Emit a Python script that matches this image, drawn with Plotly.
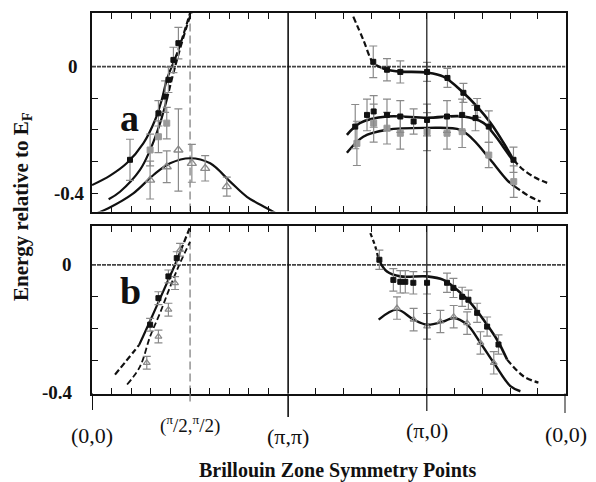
import plotly.graph_objects as go

# ---------------- data (x in units of pi along the cut, E in eV) ----------------
X_G, X_N, X_M, X_X, X_G2 = 0.0, 0.7071, 1.4142, 2.4142, 3.4142
sym_labels = ["(0,0)", "(<sup>π</sup>/2,<sup>π</sup>/2)", "(π,π)", "(π,0)", "(0,0)"]
sym_pos = [X_G, X_N, X_M, X_X, X_G2]

# panel a - nodal curves
a_A_solid_x = [0.0, 0.130, 0.250, 0.370, 0.455, 0.503, 0.539, 0.575]
a_A_solid_e = [-0.375, -0.345, -0.306, -0.243, -0.169, -0.105, -0.042, 0.0]
a_A_dash_x = [0.575, 0.623, 0.707]
a_A_dash_e = [0.0, 0.053, 0.169]
a_B_solid_x = [0.120, 0.202, 0.346, 0.419, 0.491, 0.539]
a_B_solid_e = [-0.420, -0.396, -0.327, -0.264, -0.179, -0.105]
a_B_dash_x = [0.539, 0.599, 0.683, 0.720]
a_B_dash_e = [-0.105, 0.0, 0.127, 0.175]
a_C_x = [0.0, 0.118, 0.298, 0.443, 0.563, 0.707, 0.852, 0.996, 1.117, 1.261, 1.35]
a_C_e = [-0.47, -0.448, -0.401, -0.343, -0.306, -0.290, -0.306, -0.364, -0.412, -0.448, -0.47]

# panel a - antinodal curves
a_D_dash1_x = [1.884, 1.956, 2.028, 2.090]
a_D_dash1_e = [0.158, 0.085, 0.012, -0.004]
a_D_solid_x = [2.090, 2.127, 2.223, 2.416, 2.534, 2.678, 2.777, 2.873, 2.967, 3.039]
a_D_solid_e = [-0.004, -0.010, -0.016, -0.019, -0.032, -0.083, -0.127, -0.178, -0.241, -0.295]
a_D_dash2_x = [3.039, 3.111, 3.198, 3.282]
a_D_dash2_e = [-0.295, -0.327, -0.352, -0.368]
a_E_x = [1.838, 1.934, 2.127, 2.416, 2.678, 2.822, 2.900, 2.967, 3.039]
a_E_e = [-0.216, -0.178, -0.158, -0.162, -0.158, -0.178, -0.215, -0.255, -0.300]
a_F_solid_x = [1.838, 1.956, 2.127, 2.416, 2.656, 2.750, 2.873, 2.993, 3.050]
a_F_solid_e = [-0.273, -0.222, -0.200, -0.194, -0.200, -0.232, -0.295, -0.359, -0.380]
a_F_dash_x = [3.050, 3.089, 3.160, 3.234]
a_F_dash_e = [-0.380, -0.392, -0.412, -0.427]

# panel a data points
a_blk_x = [0.274, 0.479, 0.527, 0.551, 0.587, 0.623,
           2.028, 2.127, 2.223, 2.416, 2.563, 2.678, 2.777, 3.039,
           1.898, 1.983, 2.031, 2.127, 2.223, 2.319, 2.416, 2.560, 2.669, 2.765, 2.861]
a_blk_e = [-0.295, -0.148, -0.095, -0.042, 0.021, 0.074,
           0.015, -0.010, -0.017, -0.017, -0.036, -0.083, -0.131, -0.295,
           -0.190, -0.153, -0.142, -0.153, -0.158, -0.174, -0.169, -0.158, -0.153, -0.163, -0.190]
a_blk_err = [0.065, 0.04, 0.05, 0.04, 0.04, 0.05,
             0.05, 0.035, 0.035, 0.03, 0.03, 0.03, 0.03, 0.04,
             0.07, 0.05, 0.05, 0.05, 0.05, 0.04, 0.05, 0.05, 0.05, 0.04, 0.05]
a_gry_x = [0.419, 0.479, 0.539, 1.910, 2.031, 2.127, 2.223, 2.416, 2.560, 2.669, 2.861, 3.041]
a_gry_e = [-0.264, -0.222, -0.179, -0.243, -0.179, -0.195, -0.211, -0.206, -0.211, -0.206, -0.280, -0.364]
a_gry_err = [0.05, 0.05, 0.05, 0.07, 0.06, 0.05, 0.05, 0.06, 0.05, 0.05, 0.04, 0.05]
a_tri_x = [0.419, 0.539, 0.623, 0.720, 0.816, 0.972]
a_tri_e = [-0.359, -0.317, -0.264, -0.306, -0.322, -0.380]
a_tri_err = [0.06, 0.05, 0.13, 0.06, 0.04, 0.03]

# panel b curves
b_G_dash1_x = [0.166, 0.296, 0.340]
b_G_dash1_e = [-0.343, -0.274, -0.250]
b_G_solid_x = [0.340, 0.368, 0.455, 0.541, 0.614, 0.640]
b_G_solid_e = [-0.250, -0.224, -0.140, -0.056, 0.016, 0.045]
b_G_dash2_x = [0.640, 0.707]
b_G_dash2_e = [0.045, 0.118]
b_H_x = [0.253, 0.346, 0.419, 0.491, 0.563, 0.635, 0.707]
b_H_e = [-0.374, -0.318, -0.224, -0.150, -0.069, 0.006, 0.072]
b_I_dash1_x = [2.007, 2.043, 2.067]
b_I_dash1_e = [0.099, 0.057, 0.016]
b_I_solid_x = [2.067, 2.127, 2.223, 2.416, 2.534, 2.632, 2.728, 2.822, 2.921, 2.993]
b_I_solid_e = [0.016, -0.021, -0.036, -0.036, -0.047, -0.078, -0.118, -0.171, -0.234, -0.296]
b_I_dash2_x = [2.993, 3.111, 3.219]
b_I_dash2_e = [-0.296, -0.348, -0.368]
b_J_x = [2.067, 2.199, 2.319, 2.416, 2.534, 2.608, 2.705, 2.801, 2.897, 3.017, 3.089]
b_J_e = [-0.171, -0.140, -0.171, -0.187, -0.177, -0.166, -0.187, -0.244, -0.306, -0.379, -0.395]

# panel b data points
b_blk_x = [0.419, 0.479, 0.551, 0.611,
           2.072, 2.173, 2.223, 2.259, 2.317, 2.416, 2.560, 2.606, 2.669, 2.714, 2.777, 2.849, 2.931]
b_blk_e = [-0.187, -0.104, -0.036, 0.021,
           0.016, -0.047, -0.053, -0.053, -0.056, -0.056, -0.056, -0.072, -0.100, -0.109, -0.150, -0.193, -0.249]
b_blk_err = [0.02, 0.02, 0.02, 0.02,
             0.03, 0.035, 0.035, 0.035, 0.035, 0.035, 0.03, 0.03, 0.03, 0.03, 0.03, 0.03, 0.03]
b_gry_x = [0.395, 0.479, 0.551, 0.599, 0.635,
           2.199, 2.319, 2.416, 2.512, 2.608, 2.705, 2.801, 2.897]
b_gry_e = [-0.306, -0.224, -0.140, -0.057, 0.047,
           -0.135, -0.171, -0.192, -0.177, -0.162, -0.182, -0.244, -0.306]
b_gry_err = [0.02, 0.02, 0.02, 0.02, 0.02,
             0.035, 0.035, 0.04, 0.035, 0.035, 0.035, 0.035, 0.035]

YR_A = [-0.4585, 0.171]
YR_B = [-0.402, 0.123]

# ---------------- figure ----------------
fig = go.Figure()
BLACK = "#111111"
GREY = "#8a8a8a"


def line(x, y, ax, dash="solid", width=2.2, color=BLACK):
    xa, ya = ("x", "y") if ax == "a" else ("x2", "y2")
    fig.add_trace(go.Scatter(x=x, y=y, mode="lines", xaxis=xa, yaxis=ya,
                             line=dict(color=color, width=width, dash=dash, shape="spline", smoothing=1.0),
                             showlegend=False, hoverinfo="skip"))


def pts(x, y, err, ax, symbol, color, size=6, lw=1):
    xa, ya = ("x", "y") if ax == "a" else ("x2", "y2")
    fig.add_trace(go.Scatter(x=x, y=y, mode="markers", xaxis=xa, yaxis=ya,
                             marker=dict(symbol=symbol, color=color, size=size,
                                         line=dict(color=color, width=lw)),
                             error_y=dict(type="data", array=err, color=GREY, thickness=1.2, width=4),
                             showlegend=False, hoverinfo="skip"))

# panel a
line(a_A_solid_x, a_A_solid_e, "a")
line(a_A_dash_x, a_A_dash_e, "a", dash="6px,3px")
line(a_B_solid_x, a_B_solid_e, "a")
line(a_B_dash_x, a_B_dash_e, "a", dash="6px,3px")
line(a_C_x, a_C_e, "a")
line(a_D_dash1_x, a_D_dash1_e, "a", dash="6px,3px")
line(a_D_solid_x, a_D_solid_e, "a", width=2.6)
line(a_D_dash2_x, a_D_dash2_e, "a", dash="6px,3px")
line(a_E_x, a_E_e, "a", width=2.6)
line(a_F_solid_x, a_F_solid_e, "a", width=2.4)
line(a_F_dash_x, a_F_dash_e, "a", dash="6px,3px")
pts(a_tri_x, a_tri_e, a_tri_err, "a", "triangle-up-open", GREY, size=8, lw=1.3)
pts(a_gry_x, a_gry_e, a_gry_err, "a", "square", "#9a9a9a", size=6)
pts(a_blk_x, a_blk_e, a_blk_err, "a", "square", BLACK, size=5)

# panel b
line(b_G_dash1_x, b_G_dash1_e, "b", dash="6px,3px")
line(b_G_solid_x, b_G_solid_e, "b")
line(b_G_dash2_x, b_G_dash2_e, "b", dash="6px,3px")
line(b_H_x, b_H_e, "b", dash="6px,3px", width=1.8)
line(b_I_dash1_x, b_I_dash1_e, "b", dash="4px,3px")
line(b_I_solid_x, b_I_solid_e, "b", width=2.6)
line(b_I_dash2_x, b_I_dash2_e, "b", dash="6px,3px")
line(b_J_x, b_J_e, "b", width=2.4)
pts(b_gry_x, b_gry_e, b_gry_err, "b", "triangle-up-open", GREY, size=6, lw=1.2)
pts(b_blk_x, b_blk_e, b_blk_err, "b", "square", BLACK, size=5)

# ---------------- axes ----------------
xticks = [round(i * X_M / 10, 4) for i in range(1, 10)] + [round(X_M + 0.2 * i, 4) for i in range(1, 10)]
DOM_X = [92 / 596, 565.5 / 596]
DOM_A = [1 - 211.5 / 482, 1 - 12.5 / 482]
DOM_B = [1 - 393.5 / 482, 1 - 225.5 / 482]

xcommon = dict(range=[0, X_G2], domain=DOM_X, showline=True, linewidth=2, linecolor=BLACK, mirror="ticks",
               ticks="inside", ticklen=6, tickwidth=1.2, tickcolor=BLACK, tickvals=xticks,
               showticklabels=False, showgrid=False, zeroline=False)
ycommon = dict(showline=True, linewidth=2, linecolor=BLACK, mirror="ticks", ticks="inside", ticklen=6,
               tickwidth=1.2, tickcolor=BLACK, tickvals=[-0.1, -0.2, -0.3, -0.4],
               showticklabels=False, showgrid=False, zeroline=False)
fig.update_layout(
    width=596, height=482, margin=dict(l=0, r=0, t=0, b=0),
    paper_bgcolor="white", plot_bgcolor="white",
    xaxis=dict(anchor="y", **xcommon),
    yaxis=dict(anchor="x", domain=DOM_A, range=YR_A, **ycommon),
    xaxis2=dict(anchor="y2", matches="x", **xcommon),
    yaxis2=dict(anchor="x2", domain=DOM_B, range=YR_B, **ycommon),
)

shapes = []
for xr, yr, yrange in (("x", "y", YR_A), ("x2", "y2", YR_B)):
    shapes.append(dict(type="line", xref=xr, yref=yr, x0=0, x1=X_G2, y0=0, y1=0,
                       line=dict(color="#444444", width=1.7, dash="4px,1px"), layer="below"))
    shapes.append(dict(type="line", xref=xr, yref=yr, x0=X_M, x1=X_M, y0=yrange[0], y1=yrange[1],
                       line=dict(color=BLACK, width=1.6)))
    shapes.append(dict(type="line", xref=xr, yref=yr, x0=X_X, x1=X_X, y0=yrange[0], y1=yrange[1],
                       line=dict(color=BLACK, width=1.2)))
    shapes.append(dict(type="line", xref=xr, yref=yr, x0=X_N, x1=X_N, y0=yrange[0], y1=yrange[1],
                       line=dict(color="#777777", width=1.2, dash="8px,4px"), layer="below"))

px_per_x = (DOM_X[1] - DOM_X[0]) * 596 / X_G2
for yr, e, L in (("y", 0, 10), ("y", -0.4, 5), ("y2", 0, 17), ("y2", -0.4, 15)):
    shapes.append(dict(type="line", xref="x", yref=yr, x0=-L / px_per_x, x1=0, y0=e, y1=e,
                       line=dict(color=BLACK, width=1.6)))
for xv, yb, col, dsh, w in ((X_G, 410 / 482, BLACK, "solid", 2), (X_M, 417 / 482, BLACK, "solid", 1.6),
                            (X_X, 411 / 482, BLACK, "solid", 1.2), (X_G2, 413 / 482, BLACK, "solid", 2),
                            (X_N, 404 / 482, "#777777", "8px,4px", 1.2)):
    shapes.append(dict(type="line", xref="x2", yref="paper", x0=xv, x1=xv, y0=DOM_B[0], y1=1 - yb,
                       line=dict(color=col, width=w, dash=dsh)))
fig.update_layout(shapes=shapes)

SERIF = "Liberation Serif, Times New Roman, serif"
ann = []
for yr, e, txt, xr_px in (("y", 0, "0", 80), ("y", -0.4, "-0.4", 87), ("y2", 0, "0", 74), ("y2", -0.4, "-0.4", 75)):
    ann.append(dict(xref="paper", yref=yr, x=xr_px / 596, y=e, text="<b>%s</b>" % txt, showarrow=False,
                    xanchor="right", yanchor="middle", font=dict(family=SERIF, size=19, color=BLACK)))
ann.append(dict(xref="paper", yref="paper", x=118 / 596, y=1 - 95 / 482, text="<b>a</b>", showarrow=False,
                font=dict(family=SERIF, size=38, color=BLACK)))
ann.append(dict(xref="paper", yref="paper", x=118 / 596, y=1 - 291 / 482, text="<b>b</b>", showarrow=False,
                font=dict(family=SERIF, size=38, color=BLACK)))
label_y = [435, 424, 436, 430, 434]
label_size = [22, 19, 22, 22, 22]
for xv, txt, ly, fs in zip(sym_pos, sym_labels, label_y, label_size):
    ann.append(dict(xref="x2", yref="paper", x=xv, y=1 - ly / 482, text=txt, showarrow=False,
                    xanchor="center", yanchor="middle", font=dict(family=SERIF, size=fs, color=BLACK)))
ann.append(dict(xref="paper", yref="paper", x=337 / 596, y=1 - 470 / 482, text="<b>Brillouin Zone Symmetry Points</b>",
                showarrow=False, xanchor="center", yanchor="middle", font=dict(family=SERIF, size=20, color=BLACK)))
ann.append(dict(xref="paper", yref="paper", x=22 / 596, y=1 - 207 / 482, text="<b>Energy relative to E<sub>F</sub></b>",
                showarrow=False, textangle=-90, xanchor="center", yanchor="middle",
                font=dict(family=SERIF, size=21, color=BLACK)))
fig.update_layout(annotations=ann)

fig.write_html("out.html")
